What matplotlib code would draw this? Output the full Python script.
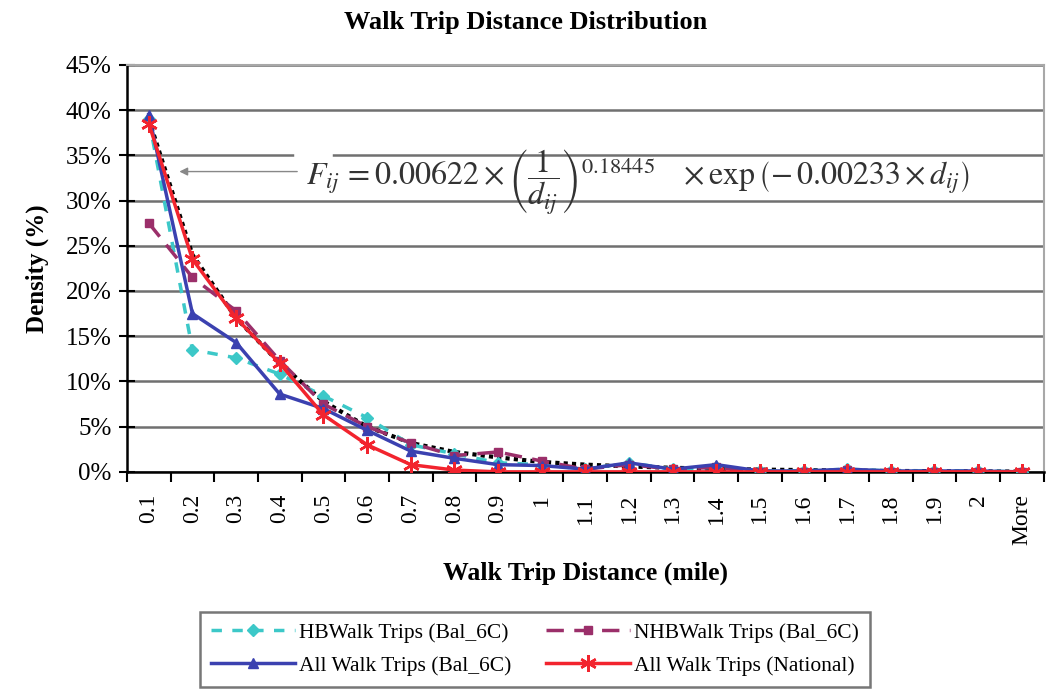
import matplotlib
matplotlib.use("Agg")
import matplotlib.pyplot as plt
from matplotlib.ticker import FixedLocator, PercentFormatter
import numpy as np

# distance bins (mile)
categories = ["0.1", "0.2", "0.3", "0.4", "0.5", "0.6", "0.7", "0.8", "0.9", "1",
              "1.1", "1.2", "1.3", "1.4", "1.5", "1.6", "1.7", "1.8", "1.9", "2", "More"]

# density (%)
hb_bal = [39.0, 13.5, 12.6, 10.8, 8.4, 6.0, 3.0, 2.0, 1.0, 0.8,
          0.3, 1.0, 0.3, 0.5, 0.1, 0.1, 0.3, 0.1, 0.1, 0.1, 0.0]
nhb_bal = [27.5, 21.5, 17.8, 12.3, 7.5, 5.0, 3.2, 1.8, 2.2, 1.2,
           0.3, 0.8, 0.3, 0.5, 0.0, 0.0, 0.2, 0.0, 0.0, 0.0, 0.0]
all_bal = [39.5, 17.5, 14.3, 8.6, 7.0, 4.6, 2.3, 1.5, 0.8, 0.7,
           0.3, 1.0, 0.3, 0.8, 0.1, 0.1, 0.3, 0.1, 0.1, 0.1, 0.0]
all_nat = [38.5, 23.5, 17.0, 12.0, 6.3, 3.0, 0.8, 0.2, 0.0, 0.0,
           0.0, 0.0, 0.0, 0.0, 0.0, 0.0, 0.0, 0.0, 0.0, 0.0, 0.0]
# fitted gamma-type curve (dotted black)
fitted = [39.0, 24.0, 17.0, 12.0, 7.8, 5.0, 3.2, 2.2, 1.6, 1.1,
          0.8, 0.6, 0.45, 0.35, 0.25, 0.2, 0.15, 0.1, 0.08, 0.05, 0.03]

plt.rcParams['font.family'] = ['Liberation Serif', 'DejaVu Serif']
plt.rcParams['mathtext.fontset'] = 'stix'

fig = plt.figure(figsize=(10.52, 6.97), dpi=100)
ax = fig.add_axes([0.1207, 0.323, 0.8713, 0.584])

x = np.arange(len(categories))

ax.plot(x, fitted, color='black', linestyle=(0, (1, 1)), linewidth=3, zorder=3)
h_hb, = ax.plot(x, hb_bal, color='#3cc8c8', linestyle=(0, (3, 3)), linewidth=2.5,
                marker='D', markersize=6, label='HBWalk Trips (Bal_6C)', zorder=4)
h_nhb, = ax.plot(x, nhb_bal, color='#9b2f6a', linestyle=(0, (5, 3)), linewidth=2.5,
                 marker='s', markersize=6, label='NHBWalk Trips (Bal_6C)', zorder=4)
h_all, = ax.plot(x, all_bal, color='#3b41b0', linestyle='-', linewidth=2.5,
                 marker='^', markersize=7, label='All Walk Trips (Bal_6C)', zorder=5)
h_nat, = ax.plot(x, all_nat, color='#f2242e', linestyle='-', linewidth=2.5,
                 marker=(6, 2, 0), markersize=12, markeredgewidth=1.8,
                 label='All Walk Trips (National)', zorder=6)

ax.set_xlim(-0.5, len(categories) - 0.5)
ax.set_ylim(0, 45)
ax.yaxis.set_major_locator(FixedLocator(np.arange(0, 46, 5)))
ax.yaxis.set_major_formatter(PercentFormatter(decimals=0))
ax.grid(axis='y', color='#707070', linewidth=1.8, zorder=0)
ax.set_axisbelow(True)

# category ticks on bin boundaries, labels at centers
ax.xaxis.set_major_locator(FixedLocator(np.arange(-0.5, len(categories), 1)))
ax.xaxis.set_major_formatter(plt.NullFormatter())
ax.xaxis.set_minor_locator(FixedLocator(x))
ax.set_xticklabels(categories, minor=True, rotation=90, fontsize=17)
ax.tick_params(axis='x', which='minor', length=0, pad=16)
ax.tick_params(axis='x', which='major', direction='out', length=7, width=1.5)
ax.tick_params(axis='y', direction='inout', length=12, width=1.5, labelsize=18, pad=5)

for s in ['left', 'bottom']:
    ax.spines[s].set_color('black')
    ax.spines[s].set_linewidth(1.8)
for s in ['top', 'right']:
    ax.spines[s].set_color('#a8a8a8')
    ax.spines[s].set_linewidth(1.5)

fig.text(0.5, 1 - 22 / 697, 'Walk Trip Distance Distribution', fontsize=19,
         fontweight='bold', ha='center', va='center')
ax.set_xlabel('Walk Trip Distance (mile)', fontsize=18.5, fontweight='bold', labelpad=12)
ax.set_ylabel('Density (%)', fontsize=18, fontweight='bold', labelpad=12)

# fitted equation (pasted image in the original) and its pointer arrow
ax.axhline(35, xmin=0.185, xmax=0.222, color='white', linewidth=4, zorder=1)
ax.annotate('', xy=(0.7, 33.2), xytext=(3.4, 33.2),
            arrowprops=dict(arrowstyle='-|>', color='#888888', lw=1,
                            mutation_scale=12, shrinkA=0, shrinkB=0))
ax.text(3.6, 32.0,
        r'$F_{ij}\,=0.00622\times\left(\dfrac{1}{d_{ij}}\right)^{0.18445}\quad\times\exp\left(-\,0.00233\times d_{ij}\right)$',
        fontsize=23, ha='left', va='center', color='#333333', zorder=7)

leg = fig.legend(handles=[h_hb, h_all, h_nhb, h_nat],
                 loc='upper left', bbox_to_anchor=(200 / 1052, 1 - 612 / 697),
                 borderaxespad=0, ncol=2, fontsize=15.5, frameon=True, fancybox=False,
                 handlelength=3.9, columnspacing=1.6, handletextpad=0.2,
                 borderpad=0.5, labelspacing=0.6)
leg.get_frame().set_edgecolor('#555555')
leg.get_frame().set_linewidth(1.8)

fig.savefig('out.png', dpi=100)
